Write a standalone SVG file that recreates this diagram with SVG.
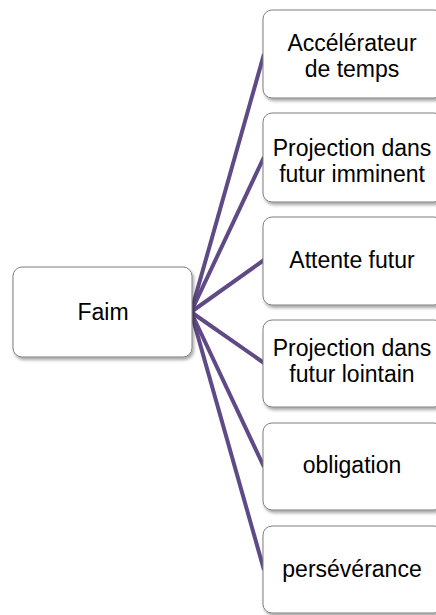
<svg xmlns="http://www.w3.org/2000/svg" width="436" height="615" viewBox="0 0 436 615">
  <defs>
    <filter id="shadow" x="-10%" y="-10%" width="125%" height="130%">
      <feDropShadow dx="1.5" dy="2.5" stdDeviation="1.8" flood-color="#000" flood-opacity="0.35"/>
    </filter>
  </defs>
  <style>
    .box { fill: #ffffff; stroke: #7f7f7f; stroke-width: 1; filter: url(#shadow); }
    .lbl { font-family: "Liberation Sans", Arial, sans-serif; font-size: 23px; fill: #000; text-anchor: middle; }
    .link { stroke: #5f4a86; stroke-width: 4; stroke-linecap: butt; fill: none; }
  </style>

  <!-- connectors from the root to each branch -->
  <g id="connectors">
    <line class="link" x1="191" y1="312" x2="264" y2="54"/>
    <line class="link" x1="191" y1="312" x2="264" y2="157"/>
    <line class="link" x1="191" y1="312" x2="264" y2="260"/>
    <line class="link" x1="191" y1="312" x2="264" y2="363"/>
    <line class="link" x1="191" y1="312" x2="264" y2="467"/>
    <line class="link" x1="191" y1="312" x2="264" y2="570"/>
  </g>

  <g id="faim">
    <rect class="box" x="13" y="267" width="179" height="90" rx="9"/>
    <text class="lbl" x="103" y="320">Faim</text>
  </g>

  <g id="accelerateur">
    <rect class="box" x="263" y="10" width="180" height="88" rx="9"/>
    <text class="lbl" x="352" y="51">Accélérateur<tspan x="352" dy="26">de temps</tspan></text>
  </g>

  <g id="projection-imminent">
    <rect class="box" x="263" y="113" width="180" height="89" rx="9"/>
    <text class="lbl" x="352" y="156">Projection dans<tspan x="352" dy="26">futur imminent</tspan></text>
  </g>

  <g id="attente">
    <rect class="box" x="263" y="217" width="180" height="88" rx="9"/>
    <text class="lbl" x="352" y="268">Attente futur</text>
  </g>

  <g id="projection-lointain">
    <rect class="box" x="263" y="320" width="180" height="87" rx="9"/>
    <text class="lbl" x="352" y="356">Projection dans<tspan x="352" dy="26">futur lointain</tspan></text>
  </g>

  <g id="obligation">
    <rect class="box" x="263" y="423" width="180" height="87" rx="9"/>
    <text class="lbl" x="352" y="473">obligation</text>
  </g>

  <g id="perseverance">
    <rect class="box" x="263" y="526" width="180" height="87" rx="9"/>
    <text class="lbl" x="352" y="577">persévérance</text>
  </g>
</svg>
